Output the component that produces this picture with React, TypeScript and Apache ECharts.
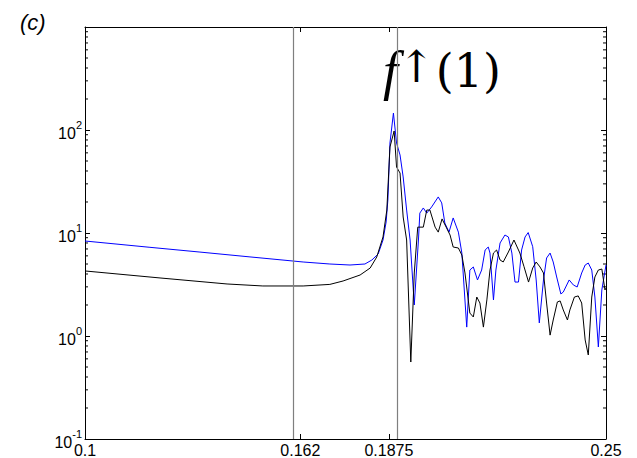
import React, { useEffect, useRef } from "react";
import * as echarts from "echarts";

// x tick labels shown on the axis
const xTicks = [0.1, 0.162, 0.1875, 0.25];
// vertical reference lines (as drawn)
const refLines = [0.1628, 0.1888];

const blueX = [0.1, 0.1187, 0.1331, 0.1475, 0.1628, 0.1705, 0.1763, 0.1806, 0.1826, 0.1844, 0.1858, 0.1867, 0.1872, 0.1878, 0.1888, 0.1897, 0.1907, 0.1916, 0.1926, 0.1936, 0.1948, 0.196, 0.1964, 0.1974, 0.1984, 0.1998, 0.2017, 0.2027, 0.2036, 0.2048, 0.206, 0.2075, 0.2085, 0.2099, 0.2108, 0.2118, 0.213, 0.2142, 0.2152, 0.2161, 0.2166, 0.2176, 0.2183, 0.2195, 0.2209, 0.2219, 0.2229, 0.2238, 0.2248, 0.2257, 0.2267, 0.2276, 0.2289, 0.2299, 0.2308, 0.232, 0.2329, 0.2339, 0.2348, 0.2358, 0.237, 0.2377, 0.2394, 0.2406, 0.2417, 0.243, 0.244, 0.2449, 0.2459, 0.2468, 0.2478, 0.2488, 0.25];
const blueY = [8.36, 7.26, 6.53, 5.86, 5.23, 5.0, 4.89, 5.0, 5.47, 6.25, 8.55, 12.8, 20.9, 74.8, 146, 74.8, 57.2, 35.0, 16.7, 8.55, 2.0, 8.55, 15.6, 17.5, 15.6, 17.9, 22.4, 19.6, 12.5, 10.2, 14.0, 10.2, 6.39, 1.22, 4.37, 4.68, 3.5, 4.37, 6.84, 7.31, 6.39, 2.24, 4.37, 8.0, 9.56, 9.15, 6.39, 3.34, 3.34, 6.84, 9.15, 10.1, 7.36, 3.5, 1.34, 3.5, 5.72, 6.39, 5.23, 3.74, 2.56, 2.67, 3.5, 3.13, 2.99, 4.09, 4.89, 5.11, 4.37, 2.39, 0.782, 2.8, 4.89];

const blackX = [0.1, 0.1216, 0.1409, 0.1512, 0.1628, 0.1705, 0.1743, 0.1792, 0.1821, 0.184, 0.1858, 0.1869, 0.1878, 0.189, 0.1897, 0.1907, 0.1916, 0.1926, 0.1938, 0.1948, 0.1958, 0.1974, 0.1984, 0.1993, 0.2008, 0.2017, 0.2028, 0.2041, 0.2051, 0.206, 0.2075, 0.2085, 0.2094, 0.2108, 0.2118, 0.2128, 0.2137, 0.2147, 0.2157, 0.2166, 0.2176, 0.2185, 0.2195, 0.2204, 0.2219, 0.2235, 0.2248, 0.2252, 0.2264, 0.2277, 0.2289, 0.2299, 0.231, 0.232, 0.2329, 0.2339, 0.2348, 0.236, 0.2368, 0.2377, 0.2389, 0.2396, 0.2409, 0.242, 0.243, 0.244, 0.2449, 0.2459, 0.2468, 0.2478, 0.2488, 0.2497, 0.25];
const blackY = [4.28, 3.66, 3.2, 3.06, 3.06, 3.17, 3.42, 3.91, 4.57, 5.85, 9.15, 16.7, 68.4, 97.8, 43.7, 38.2, 14.3, 8.55, 0.559, 4.09, 11.4, 11.4, 16.7, 16.7, 11.4, 10.2, 13.7, 11.2, 9.56, 7.31, 7.15, 6.11, 4.09, 1.67, 1.53, 2.39, 2.09, 1.22, 2.24, 4.37, 6.39, 6.84, 5.47, 5.23, 6.54, 8.55, 6.84, 6.39, 4.71, 3.34, 4.57, 5.23, 4.68, 4.09, 2.09, 1.02, 1.43, 2.14, 2.19, 1.79, 1.43, 1.79, 2.39, 2.45, 2.09, 0.915, 0.654, 2.39, 3.74, 4.37, 4.47, 2.8, 2.92];

const decades = [0.1, 1, 10, 100];
const minorMult = [2, 3, 4, 5, 6, 7, 8, 9];

const FONT = "'Liberation Sans', Arial, Helvetica, sans-serif";

export default function App() {
  const ref = useRef<HTMLDivElement>(null);
  useEffect(() => {
    if (!ref.current) return;
    const chart = echarts.init(ref.current, undefined, { renderer: "svg" });
    const zip = (xs: number[], ys: number[]) => xs.map((x, i) => [x, ys[i]]);
    const minorVals: number[][] = [];
    decades.forEach((d) => minorMult.forEach((m) => minorVals.push([0.1, +(d * m).toPrecision(3)])));

    const axisLine = { show: true, onZero: false, lineStyle: { color: "#000", width: 1 } };
    const option: any = {
      animation: false,
      backgroundColor: "#fff",
      grid: { left: 85, right: 31, top: 27, bottom: 19, containLabel: false },
      xAxis: [
        {
          type: "value",
          min: 0.1,
          max: 0.25,
          position: "bottom",
          axisLine,
          splitLine: { show: false },
          axisTick: { show: true, inside: true, length: 5, customValues: xTicks, lineStyle: { color: "#000" } },
          axisLabel: {
            show: true,
            customValues: xTicks,
            formatter: (v: number) => String(v),
            margin: 3,
            fontSize: 16,
            fontFamily: FONT,
            color: "#000",
          },
        },
        {
          type: "value",
          min: 0.1,
          max: 0.25,
          position: "top",
          axisLine,
          splitLine: { show: false },
          axisTick: { show: true, inside: true, length: 5, customValues: xTicks, lineStyle: { color: "#000" } },
          axisLabel: { show: false },
        },
      ],
      yAxis: [
        {
          type: "log",
          logBase: 10,
          min: 0.1,
          max: 1000,
          position: "left",
          axisLine,
          splitLine: { show: false },
          axisTick: { show: true, inside: true, length: 5, lineStyle: { color: "#000" } },
          axisLabel: {
            margin: 3,
            formatter: (v: number) => {
              const e = Math.round(Math.log10(v));
              if (e === 3) return "";
              return `{b|10}{s|${e}}`;
            },
            rich: {
              b: { fontSize: 16, fontFamily: FONT, color: "#000", lineHeight: 22, padding: [6, 0, 0, 0] },
              s: { fontSize: 11, fontFamily: FONT, color: "#000", verticalAlign: "top", lineHeight: 12 },
            },
          },
        },
        {
          type: "log",
          logBase: 10,
          min: 0.1,
          max: 1000,
          position: "right",
          axisLine,
          splitLine: { show: false },
          axisTick: { show: true, inside: true, length: 5, lineStyle: { color: "#000" } },
          axisLabel: { show: false },
        },
      ],
      series: [
        {
          type: "custom",
          xAxisIndex: 0,
          yAxisIndex: 0,
          silent: true,
          data: minorVals,
          renderItem: (params: any, api: any) => {
            const v = api.value(1);
            const pL = api.coord([0.1, v]);
            const pR = api.coord([0.25, v]);
            return {
              type: "group",
              children: [
                { type: "line", shape: { x1: pL[0], y1: pL[1], x2: pL[0] + 3, y2: pL[1] }, style: { stroke: "#000", lineWidth: 1 } },
                { type: "line", shape: { x1: pR[0], y1: pR[1], x2: pR[0] - 3, y2: pR[1] }, style: { stroke: "#000", lineWidth: 1 } },
              ],
            };
          },
        },
        {
          type: "line",
          name: "blue",
          xAxisIndex: 0,
          yAxisIndex: 0,
          data: zip(blueX, blueY),
          showSymbol: false,
          symbol: "none",
          lineStyle: { color: "#0000ff", width: 1 },
          markLine: {
            silent: true,
            symbol: "none",
            label: { show: false },
            lineStyle: { color: "#7f7f7f", width: 1.2, type: "solid" },
            data: refLines.map((x) => ({ xAxis: x })),
          },
        },
        {
          type: "line",
          name: "black",
          xAxisIndex: 0,
          yAxisIndex: 0,
          data: zip(blackX, blackY),
          showSymbol: false,
          symbol: "none",
          lineStyle: { color: "#000000", width: 1 },
        },
      ],
      graphic: [
        {
          type: "text",
          left: 20,
          top: 11,
          style: { text: "(c)", font: `italic 22px ${FONT}`, fill: "#000" },
        },
        {
          type: "text",
          x: 383,
          y: 71,
          style: {
            text: "{f|f}{a|↑}{p|(1)}",
            verticalAlign: "middle",
            rich: {
              f: { fontSize: 54, fontStyle: "italic", fontFamily: "'Liberation Serif', 'DejaVu Serif', serif", fill: "#000" },
              a: { fontSize: 44, fontStyle: "italic", fontFamily: "'DejaVu Serif', serif", fill: "#000", verticalAlign: "top", padding: [0, 1, 0, 0] },
              p: { fontSize: 46, fontFamily: "'DejaVu Serif', 'Liberation Serif', serif", fill: "#000" },
            },
          },
        },
      ],
    };
    chart.setOption(option);
    return () => chart.dispose();
  }, []);
  return <div ref={ref} style={{ position: "fixed", left: 0, top: 0, width: 637, height: 458 }} />;
}
